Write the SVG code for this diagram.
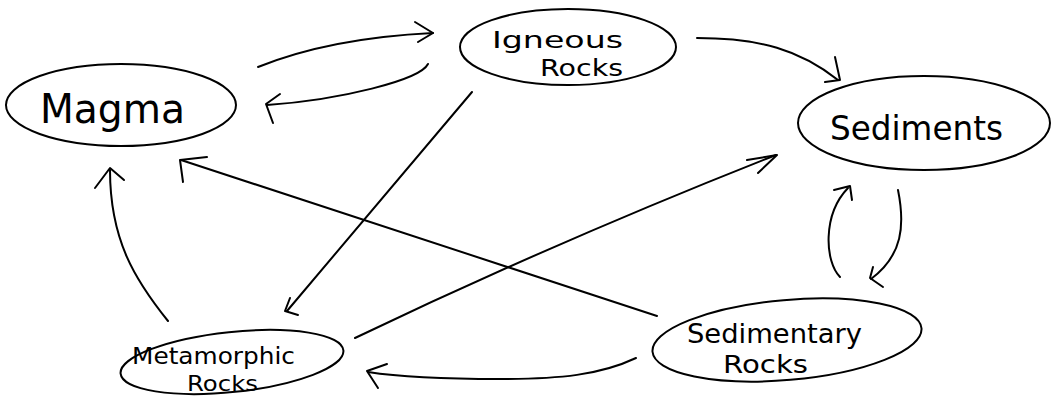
<svg xmlns="http://www.w3.org/2000/svg" width="1058" height="396" viewBox="0 0 1058 396">
<style>
.node{fill:none;stroke:#000;stroke-width:2}
.lbl{font-family:"DejaVu Sans","Liberation Sans",sans-serif;fill:#000;text-anchor:start}
.edge{fill:none;stroke:#000;stroke-width:2;stroke-linecap:round;stroke-linejoin:round}
</style>
<rect width="1058" height="396" fill="#fff"/>
<g id="magma">
<ellipse class="node" cx="121" cy="105" rx="115" ry="41"/>
<text class="lbl" x="40" y="123" font-size="40" textLength="145" lengthAdjust="spacingAndGlyphs">Magma</text>
</g>
<g id="igneous">
<ellipse class="node" cx="568" cy="47" rx="108" ry="38"/>
<text class="lbl" x="492" y="48" font-size="23" textLength="131" lengthAdjust="spacingAndGlyphs">Igneous</text>
<text class="lbl" x="540" y="76" font-size="23" textLength="83" lengthAdjust="spacingAndGlyphs">Rocks</text>
</g>
<g id="sediments">
<ellipse class="node" cx="924" cy="123" rx="126" ry="47"/>
<text class="lbl" x="830" y="140" font-size="34" textLength="173" lengthAdjust="spacingAndGlyphs">Sediments</text>
</g>
<g id="metamorphic">
<ellipse class="node" cx="232" cy="362" rx="112" ry="30" transform="rotate(-6 232 362)"/>
<text class="lbl" x="132" y="364" font-size="23" textLength="163" lengthAdjust="spacingAndGlyphs">Metamorphic</text>
<text class="lbl" x="187" y="391" font-size="22" textLength="71" lengthAdjust="spacingAndGlyphs">Rocks</text>
</g>
<g id="sedimentary">
<ellipse class="node" cx="787" cy="340" rx="135" ry="40" transform="rotate(-5 787 340)"/>
<text class="lbl" x="687" y="343" font-size="26" textLength="175" lengthAdjust="spacingAndGlyphs">Sedimentary</text>
<text class="lbl" x="723" y="373" font-size="25" textLength="85" lengthAdjust="spacingAndGlyphs">Rocks</text>
</g>
<g id="connectors">
<path class="edge" d="M258,67 Q330,38 433,33"/>
<path class="edge" d="M415,22 L433,33 L418,42"/>
<path class="edge" d="M428,64 C420,80 340,100 267,105"/>
<path class="edge" d="M280,94 L266,104 L273,123"/>
<path class="edge" d="M697,38 C760,38 800,50 838,80"/>
<path class="edge" d="M835,57 L840,80 L825,82"/>
<path class="edge" d="M472,92 L287,311"/>
<path class="edge" d="M290,298 L285,311 L298,315"/>
<path class="edge" d="M657,316 L181,160"/>
<path class="edge" d="M207,157 L180,160 L183,182"/>
<path class="edge" d="M355,338 Q560,240 776,155"/>
<path class="edge" d="M747,160 L777,155 L758,173"/>
<path class="edge" d="M168,321 C135,280 110,240 110,170"/>
<path class="edge" d="M95,188 L110,168 L124,180"/>
<path class="edge" d="M636,358 C600,375 560,379 500,379 C440,379 400,377 368,372"/>
<path class="edge" d="M387,364 L367,371 L378,388"/>
<path class="edge" d="M840,277 C825,262 822,215 848,188"/>
<path class="edge" d="M834,190 L850,186 L852,200"/>
<path class="edge" d="M898,190 C905,225 903,255 871,279"/>
<path class="edge" d="M873,267 L870,278 L883,287"/>
</g>
</svg>
